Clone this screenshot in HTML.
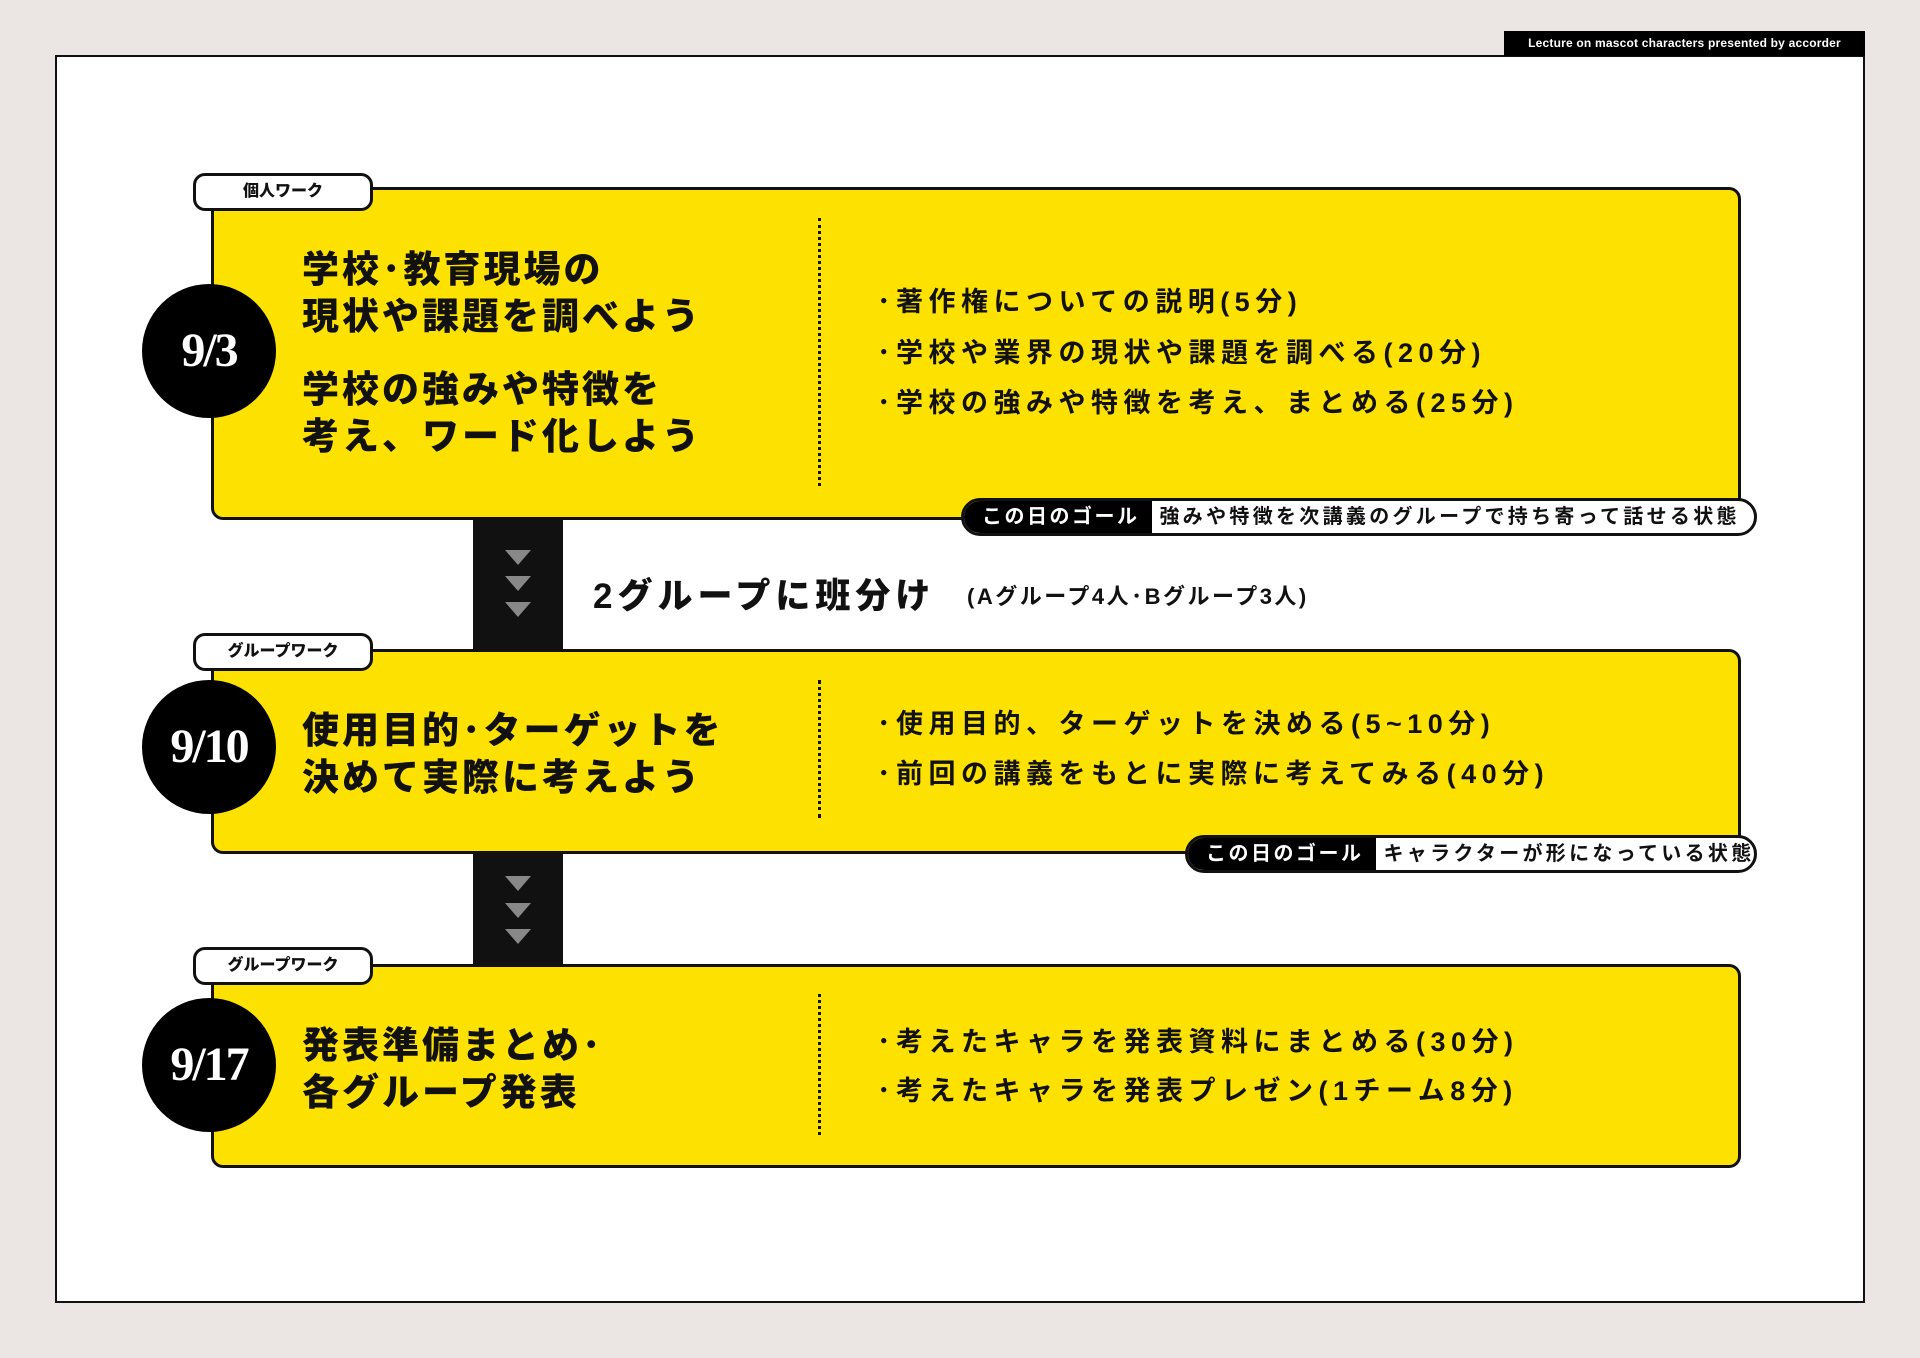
<!DOCTYPE html>
<html><head><meta charset="utf-8">
<style>
*{margin:0;padding:0;box-sizing:border-box}
body{width:1920px;height:1358px;background:#ebe6e3;position:relative;overflow:hidden;font-family:"Liberation Sans","Noto Sans CJK JP",sans-serif;color:#111}
.abs{position:absolute}
.frame{left:55px;top:55px;width:1810px;height:1248px;background:#fff;border:2.5px solid #111}
.tab{left:1504px;top:31px;width:361px;height:25px;background:#000;color:#fff;font-size:12px;font-weight:bold;line-height:25px;text-align:center;letter-spacing:.2px}
.card{left:211px;width:1530px;background:#fde100;border:3.5px solid #111;border-radius:12px}
.tag{left:193px;width:180px;height:38px;background:#fff;border:3px solid #111;border-radius:12px;font-size:16px;font-weight:900;text-align:center;line-height:32px}
.circ{width:134px;height:134px;border-radius:50%;background:#000;color:#fff;font-family:"Liberation Serif",serif;font-weight:bold;font-size:48px;text-align:center;line-height:134px;letter-spacing:-2px}
.title{left:302px;font-size:37px;font-weight:900;line-height:47px;letter-spacing:3px;white-space:nowrap}
.dot{left:818px;width:0;border-left:3px dotted #111}
.bul{left:877px;font-size:27px;font-weight:bold;letter-spacing:5.5px;white-space:nowrap;line-height:34px}
.goal{height:38px;border:3px solid #111;border-radius:19px;background:#fff;overflow:hidden;display:flex;font-weight:bold;font-size:20px;line-height:32px;white-space:nowrap;letter-spacing:3.3px}
.goal .k{background:#000;color:#fff;padding:0 12px 0 18px;letter-spacing:2.5px}
.goal .v{padding:0 8px}
.bar{left:473px;width:90px;background:#111}
.tri{width:0;height:0;border-left:13px solid transparent;border-right:13px solid transparent;border-top:15px solid #888;left:505px}
</style></head><body>
<div class="abs frame"></div>
<div class="abs tab">Lecture on mascot characters presented by accorder</div>

<div class="abs bar" style="top:515px;height:140px"></div>
<div class="abs tri" style="top:550px"></div>
<div class="abs tri" style="top:576px"></div>
<div class="abs tri" style="top:602px"></div>
<div class="abs" style="left:593px;top:568px;font-size:35px;font-weight:900;letter-spacing:5px;white-space:nowrap">2グループに班分け</div>
<div class="abs" style="left:967px;top:579px;font-size:22px;font-weight:bold;letter-spacing:2.5px;white-space:nowrap">(Aグループ4人･Bグループ3人)</div>

<div class="abs bar" style="top:850px;height:118px"></div>
<div class="abs tri" style="top:876px"></div>
<div class="abs tri" style="top:903px"></div>
<div class="abs tri" style="top:929px"></div>

<div class="abs card" style="top:187px;height:333px"></div>
<div class="abs tag" style="top:173px">個人ワーク</div>
<div class="abs circ" style="left:142px;top:284px">9/3</div>
<div class="abs title" style="top:246px">学校･教育現場の<br>現状や課題を調べよう</div>
<div class="abs title" style="top:366px">学校の強みや特徴を<br>考え、ワード化しよう</div>
<div class="abs dot" style="top:218px;height:268px"></div>
<div class="abs bul" style="top:285px">･著作権についての説明(5分)</div>
<div class="abs bul" style="top:336px">･学校や業界の現状や課題を調べる(20分)</div>
<div class="abs bul" style="top:386px">･学校の強みや特徴を考え、まとめる(25分)</div>
<div class="abs goal" style="left:961px;top:498px;width:796px"><span class="k">この日のゴール</span><span class="v">強みや特徴を次講義のグループで持ち寄って話せる状態</span></div>

<div class="abs card" style="top:649px;height:205px"></div>
<div class="abs tag" style="top:633px">グループワーク</div>
<div class="abs circ" style="left:142px;top:680px">9/10</div>
<div class="abs title" style="top:707px">使用目的･ターゲットを<br>決めて実際に考えよう</div>
<div class="abs dot" style="top:680px;height:138px"></div>
<div class="abs bul" style="top:707px">･使用目的、ターゲットを決める(5~10分)</div>
<div class="abs bul" style="top:757px">･前回の講義をもとに実際に考えてみる(40分)</div>
<div class="abs goal" style="left:1185px;top:835px;width:572px"><span class="k">この日のゴール</span><span class="v">キャラクターが形になっている状態</span></div>

<div class="abs card" style="top:964px;height:204px"></div>
<div class="abs tag" style="top:947px">グループワーク</div>
<div class="abs circ" style="left:142px;top:998px">9/17</div>
<div class="abs title" style="top:1022px">発表準備まとめ･<br>各グループ発表</div>
<div class="abs dot" style="top:994px;height:141px"></div>
<div class="abs bul" style="top:1025px">･考えたキャラを発表資料にまとめる(30分)</div>
<div class="abs bul" style="top:1074px">･考えたキャラを発表プレゼン(1チーム8分)</div>
</body></html>
